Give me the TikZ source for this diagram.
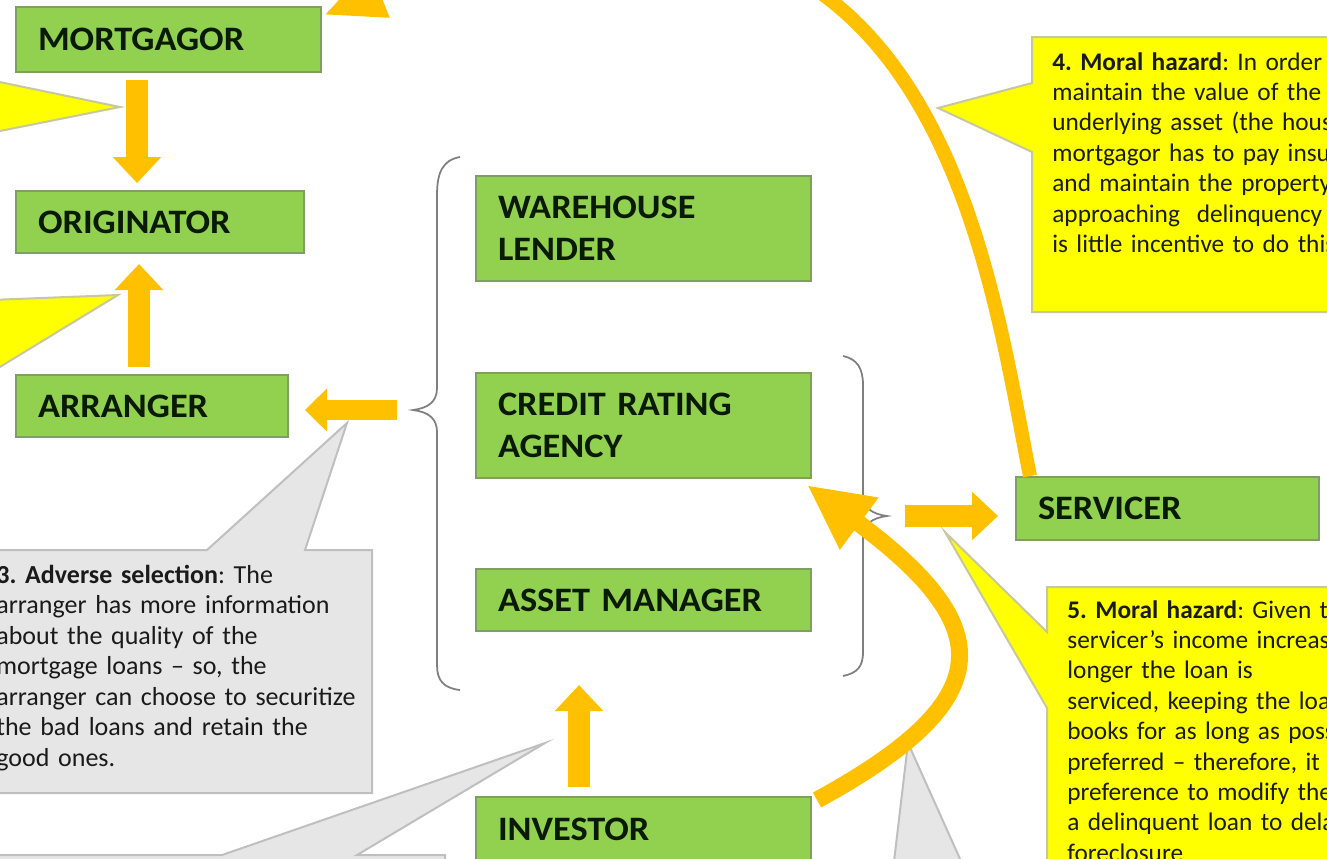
\documentclass[tikz,border=0pt]{standalone}
\usepackage{fontspec}
\setmainfont{Carlito}
\newfontfamily\labelfont[FakeStretch=1.06]{Carlito}
\usetikzlibrary{arrows.meta}
\definecolor{boxgreen}{HTML}{92D050}
\definecolor{boxedge}{HTML}{7F9F60}
\definecolor{labeltext}{HTML}{0A1A05}
\definecolor{flowc}{HTML}{FFC000}
\definecolor{noteyellow}{HTML}{FFFF00}
\definecolor{yellowedge}{HTML}{C8C8A0}
\definecolor{notegray}{HTML}{E6E6E6}
\definecolor{grayedge}{HTML}{BFBFBF}
\definecolor{bracec}{HTML}{7F7F7F}
\definecolor{notetext}{HTML}{1A1A1A}

\tikzset{
  actor/.style={draw=boxedge, fill=boxgreen, line width=0.4mm, anchor=north west,
    inner xsep=4.4mm, inner ysep=0pt, align=left, text=labeltext,
    font=\labelfont\fontsize{19.5}{24}\selectfont\bfseries},
  note/.style={anchor=base west, inner sep=0pt, align=left, text width=90mm,
    text=notetext, font=\frenchspacing\fontsize{14.8}{17.4}\selectfont},
  smallnote/.style={note, font=\frenchspacing\fontsize{14.4}{17.3}\selectfont},
  flow/.style={draw=flowc, line width=4.4mm, -{Triangle[width=9.4mm,length=5.2mm]}},
  yellownote/.style={fill=noteyellow, draw=yellowedge, line width=0.4mm},
  graynote/.style={fill=notegray, draw=grayedge, line width=0.4mm},
  curly/.style={draw=bracec, line width=0.35mm}
}

\begin{document}
\begin{tikzpicture}[x=0.2mm, y=-0.2mm]
\useasboundingbox (0,0) rectangle (1327,858);
\clip (0,0) rectangle (1327,858);

% call-outs
\draw[yellownote] (-10,80) -- (120,107) -- (-10,133);
\draw[yellownote] (-10,300) -- (118,295) -- (-10,373);
\draw[yellownote] (1032,37) -- (1340,37) -- (1340,312) -- (1032,312) -- (1032,152) -- (938,108) -- (1032,83) -- cycle;
\draw[yellownote] (1047,587) -- (1340,587) -- (1340,870) -- (1047,870) -- (1047,708) -- (945,532) -- (1047,632) -- cycle;
\draw[graynote] (-10,550) -- (207,550) -- (347,423) -- (305,550) -- (372,550) -- (372,793) -- (-10,793) -- cycle;
\draw[graynote] (-10,855) -- (222,855) -- (545,743) -- (357,855) -- (445,855) -- (445,870) -- (-10,870) -- cycle;
\draw[graynote] (893,870) -- (908,743) -- (965,870);

\node[smallnote] (hazardfour) at (1052,70) {\textbf{4. Moral hazard}: In order t\\maintain the value of the\\underlying asset (the hous\\mortgagor has to pay insu\\and maintain the property\\approaching\ \ delinquency\\is little incentive to do this};
\node[smallnote] (hazardfive) at (1067,618) {\textbf{5. Moral hazard}: Given t\\servicer's income increas\\longer the loan is\\serviced, keeping the loa\\books for as long as poss\\preferred -- therefore, it\\preference to modify the\\a delinquent loan to dela\\foreclosure};
\node[note] (adverse) at (-4,583) {\textbf{3. Adverse selection}: The\\arranger has more information\\about the quality of the\\mortgage loans -- so, the\\arranger can choose to securitize\\the bad loans and retain the\\good ones.};

% braces
\coordinate (lbrace) at (413,410);
\coordinate (rbrace) at (887,516);
\draw[curly] (460,157) .. controls (443,160) and (437,172) .. (437,195) -- (437,388) .. controls (437,402) and (428,408) .. (lbrace) .. controls (428,412) and (437,418) .. (437,432) -- (437,665) .. controls (437,680) and (443,688) .. (460,690);
\draw[curly] (843,356) .. controls (857,359) and (863,368) .. (863,385) -- (863,494) .. controls (863,508) and (872,514) .. (rbrace) .. controls (872,518) and (863,524) .. (863,538) -- (863,652) .. controls (863,667) and (857,673) .. (843,676);

% parties
\node[actor, minimum width=61mm, minimum height=13mm, text width=52.2mm] (mortgagor) at (15,6) {MORTGAGOR};
\node[actor, minimum width=57.6mm, minimum height=12.4mm, text width=48.8mm] (originator) at (15,190) {ORIGINATOR};
\node[actor, minimum width=54.4mm, minimum height=12.4mm, text width=45.6mm] (arranger) at (15,374) {ARRANGER};
\node[actor, minimum width=67mm, minimum height=21mm, text width=58.2mm] (warehouse) at (475,175) {WAREHOUSE\\LENDER};
\node[actor, minimum width=67mm, minimum height=21mm, text width=58.2mm] (credit) at (475,372) {CREDIT RATING\\AGENCY};
\node[actor, minimum width=67mm, minimum height=12.4mm, text width=58.2mm] (assetmgr) at (475,568) {ASSET MANAGER};
\node[actor, minimum width=67mm, minimum height=13mm, text width=58.2mm] (investor) at (475,796) {INVESTOR};
\node[actor, minimum width=60.6mm, minimum height=12.6mm, text width=51.8mm] (servicer) at (1015,476) {SERVICER};

% flows
\draw[flow, shorten <=1.4mm, shorten >=1.4mm] ([xshift=-6.3mm]mortgagor.south) -- ([xshift=-6.3mm]mortgagor.south |- originator.north);
\draw[flow, shorten <=1.4mm, shorten >=2mm] ([xshift=-2.6mm]arranger.north) -- ([xshift=-2.6mm]arranger.north |- originator.south);
\draw[flow, line width=4mm, -{Triangle[width=8.4mm,length=4.4mm]}, shorten <=3.2mm, shorten >=3.2mm] (lbrace) -- (lbrace -| arranger.east);
\draw[flow, shorten <=3.6mm, shorten >=3.4mm] (rbrace) -- (rbrace -| servicer.west);
\draw[flow, shorten <=1.8mm, shorten >=10.6mm] ([xshift=-12.9mm]investor.north) -- ([xshift=-12.9mm]investor.north |- assetmgr.south);
\draw[flow, line width=2.8mm, -{Triangle[width=10mm,length=12mm]}] ([xshift=3mm]servicer.north west) .. controls (985,250) and (930,-230) .. ([xshift=0.4mm,yshift=-1.8mm]mortgagor.north east);
\draw[flow, line width=3.4mm, -{Triangle[width=12mm,length=13mm]}] ([xshift=1mm,yshift=-0.8mm]investor.north east) .. controls (1000,700) and (1000,628) .. ([xshift=-1mm,yshift=-1.2mm]credit.south east);
\end{tikzpicture}
\end{document}
